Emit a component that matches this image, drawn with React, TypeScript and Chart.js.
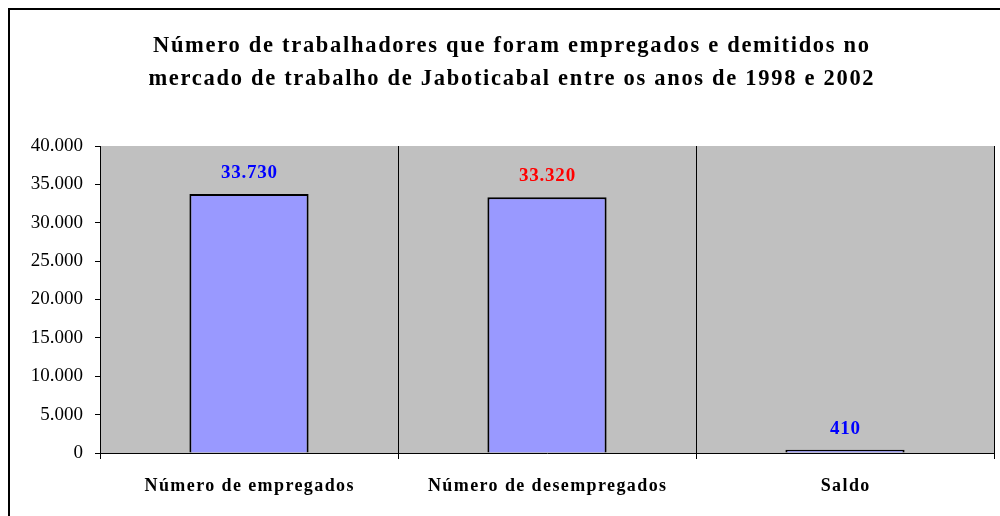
import React, { useEffect, useRef } from "react";
import { Chart, registerables } from "chart.js";

Chart.register(...registerables);

const titleLines = [
  "Número de trabalhadores que foram empregados e demitidos no",
  "mercado de trabalho de Jaboticabal entre os anos de 1998 e 2002",
];
const categories = ["Número de empregados", "Número de desempregados", "Saldo"];
const values = [33730, 33320, 410];
const valueLabels = ["33.730", "33.320", "410"];
const labelColors = ["#0000FF", "#FF0000", "#0000FF"];
const yTicks = [0, 5000, 10000, 15000, 20000, 25000, 30000, 35000, 40000];

const SERIF = "'Liberation Serif', 'Times New Roman', serif";

const fmt = (v: number) => v.toLocaleString("de-DE");

function spacedText(ctx: any, text: string, cx: number, cy: number, spacing: number) {
  ctx.letterSpacing = `${spacing}px`;
  const w = ctx.measureText(text).width - spacing;
  ctx.textAlign = "left";
  ctx.textBaseline = "middle";
  ctx.fillText(text, cx - w / 2, cy);
  ctx.letterSpacing = "0px";
}

export default function App() {
  const ref = useRef<HTMLCanvasElement | null>(null);
  useEffect(() => {
    if (!ref.current) return;
    const bgPlugin = {
      id: "bg",
      beforeDraw(chart: any) {
        const { ctx, chartArea: a } = chart;
        ctx.save();
        ctx.fillStyle = "#C0C0C0";
        ctx.fillRect(a.left, a.top, a.right - a.left, a.bottom - a.top);
        ctx.restore();
      },
    };
    const textPlugin = {
      id: "customText",
      afterDraw(chart: any) {
        const { ctx, chartArea: a } = chart;
        ctx.save();
        ctx.fillStyle = "#000";
        ctx.font = `bold 22.5px ${SERIF}`;
        spacedText(ctx, titleLines[0], 501, 36, 1.7);
        spacedText(ctx, titleLines[1], 501, 69, 1.7);
        ctx.font = `bold 18px ${SERIF}`;
        const xs = chart.scales.x;
        categories.forEach((c, i) => {
          spacedText(ctx, c, xs.getPixelForValue(i), a.bottom + 33, 1.4);
        });
        ctx.restore();
      },
    };
    const labelPlugin = {
      id: "valueLabels",
      afterDatasetsDraw(chart: any) {
        const { ctx } = chart;
        const meta = chart.getDatasetMeta(0);
        ctx.save();
        ctx.font = `bold 19px ${SERIF}`;
        meta.data.forEach((bar: any, i: number) => {
          ctx.fillStyle = labelColors[i];
          spacedText(ctx, valueLabels[i], bar.x, bar.y - 21, 0.8);
        });
        ctx.restore();
      },
    };
    const chart = new Chart(ref.current, {
      type: "bar",
      data: {
        labels: categories,
        datasets: [
          {
            data: values,
            backgroundColor: "#9999FF",
            borderColor: "#000000",
            borderWidth: 2,
            barPercentage: 0.4,
            categoryPercentage: 1,
          },
        ],
      },
      options: {
        animation: false,
        responsive: false,
        maintainAspectRatio: false,
        layout: { padding: { top: 136, right: 6, left: 0, bottom: 0 } },
        plugins: {
          legend: { display: false },
          title: { display: false },
          tooltip: { enabled: false },
        },
        scales: {
          x: {
            grid: {
              offset: true,
              color: "#000000",
              lineWidth: 1,
              drawOnChartArea: true,
              drawTicks: true,
              tickLength: 6,
            },
            border: { color: "#000000", width: 1 },
            ticks: { display: false },
            afterFit(scale: any) {
              scale.height = 63;
            },
          },
          y: {
            min: 0,
            max: 40000,
            afterBuildTicks(scale: any) {
              scale.ticks = yTicks.map((v) => ({ value: v }));
            },
            grid: {
              drawOnChartArea: false,
              drawTicks: true,
              tickLength: 5,
              color: "#000000",
            },
            border: { color: "#000000", width: 1 },
            ticks: {
              color: "#000000",
              font: { family: SERIF, size: 19 },
              padding: 12,
              callback: (v: any) => fmt(Number(v)),
            },
            afterFit(scale: any) {
              scale.width = 90;
            },
          },
        },
      },
      plugins: [bgPlugin, textPlugin, labelPlugin],
    });
    return () => chart.destroy();
  }, []);
  return (
    <div
      style={{
        position: "fixed",
        left: 8,
        top: 8,
        width: 990,
        height: 506,
        borderLeft: "2px solid #000",
        borderTop: "2px solid #000",
        background: "#fff",
      }}
    >
      <canvas ref={ref} width={990} height={506} style={{ display: "block" }} />
    </div>
  );
}
